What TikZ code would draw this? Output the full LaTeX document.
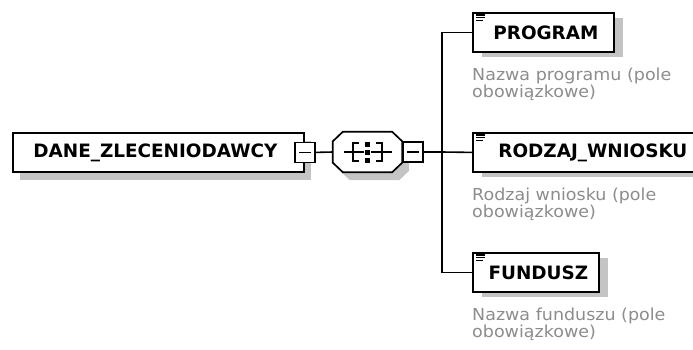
\documentclass[tikz,border=0pt]{standalone}
\usepackage{fontspec}
\setmainfont{DejaVu Sans}
\newfontfamily\descfont[FakeStretch=1.06]{DejaVu Sans}
\usetikzlibrary{shadows,calc}
\definecolor{shadowgray}{RGB}{196,196,196}
\definecolor{descgray}{RGB}{140,140,140}
\tikzset{
  elem/.style={draw=black, line width=1.8pt, fill=white, minimum height=39pt,
    inner sep=0pt, anchor=north west, font=\bfseries\fontsize{18.4}{22}\selectfont},
  mainshadow/.style={drop shadow={shadow xshift=7pt, shadow yshift=-8pt, opacity=1, fill=shadowgray, draw=none}},
  childshadow/.style={drop shadow={shadow xshift=9pt, shadow yshift=-5pt, opacity=1, fill=shadowgray, draw=none}},
  conn/.style={line width=1.6pt, draw=black},
  desc/.style={font=\descfont\fontsize{16.5}{17.3}\selectfont, text=descgray,
    anchor=base west, inner sep=0pt},
  minusbox/.style={draw=black, fill=white, line width=1.7pt, minimum size=20pt, inner sep=0pt,
    path picture={\draw[line width=1.5pt] ([xshift=-6pt]path picture bounding box.center) -- ([xshift=6pt]path picture bounding box.center);}},
  iconline/.style={line width=1.2pt},
}
\begin{document}
\begin{tikzpicture}[x=1pt,y=-1pt]
\useasboundingbox (0,0) rectangle (693,349);

% root element
\node[elem, mainshadow, minimum width=291pt] (dane) at (12,132) {\hspace*{-6pt}DANE\_ZLECENIODAWCY};
\node[minusbox] (dm) at (dane.east) {};

% sequence compositor
\node[inner sep=0pt, minimum width=69pt, minimum height=40pt] (seq) at (367.5,152) {};
\fill[shadowgray] ($(seq.north west)+(17,8)$) -- ($(seq.north east)+(-3,8)$) -- ($(seq.north east)+(7,17.5)$)
  -- ($(seq.south east)+(7,-1.5)$) -- ($(seq.south east)+(-3,8)$) -- ($(seq.south west)+(17,8)$)
  -- ($(seq.south west)+(7,-1.5)$) -- ($(seq.north west)+(7,17.5)$) -- cycle;
\draw[line width=1.7pt, fill=white] ($(seq.north west)+(10,0)$) -- ($(seq.north east)+(-10,0)$) -- ($(seq.north east)+(0,9.5)$)
  -- ($(seq.south east)+(0,-9.5)$) -- ($(seq.south east)+(-10,0)$) -- ($(seq.south west)+(10,0)$)
  -- ($(seq.south west)+(0,-9.5)$) -- ($(seq.north west)+(0,9.5)$) -- cycle;
\begin{scope}[shift={(seq.center)}]
  \draw[line width=1.5pt] (-23.5,0) -- (24.5,0);
  \draw[line width=1.5pt] (-8.5,-9) -- (-14.5,-9) -- (-14.5,9) -- (-8.5,9);
  \draw[line width=1.5pt] (8.5,-9) -- (14.5,-9) -- (14.5,9) -- (8.5,9);
  \fill[white] (-3.5,-11) rectangle (3.5,11);
  \fill[black] (-2.5,-10.5) rectangle (2.5,-5.5);
  \fill[black] (-2.5,-2.5) rectangle (2.5,2.5);
  \fill[black] (-2.5,5.5) rectangle (2.5,10.5);
\end{scope}
\node[minusbox, anchor=west] (sm) at (seq.east) {};

% children
\node[elem, childshadow, minimum width=141pt] (prog) at (472,12) {\hspace*{5pt}PROGRAM};
\node[elem, childshadow, minimum width=240pt] (rodz) at (472,132) {RODZAJ\_WNIOSKU};
\node[elem, childshadow, minimum width=126pt] (fund) at (472,252) {\hspace*{5pt}FUNDUSZ};

\foreach \n in {prog,rodz,fund}{
  \begin{scope}[shift={(\n.north west)}]
    \draw[iconline] (4,3) -- (12.5,3);
    \draw[iconline] (4,5.7) -- (12.5,5.7);
    \draw[iconline] (4,8.5) -- (11,8.5);
  \end{scope}
}

% connectors
\coordinate (trunk) at (442,152);
\draw[conn] (dm.east) -- (seq.west);
\draw[conn] (sm.east) -- (trunk);
\draw[conn] (trunk) |- (prog.west);
\draw[conn] (trunk) -- (rodz.west);
\draw[conn] (trunk) |- (fund.west);

% descriptions
\node[desc] (dprogA) at (472,80) {Nazwa programu (pole};
\node[desc] (dprogB) at (472,97.3) {obowiązkowe)};
\node[desc] (drodzA) at (472,200) {Rodzaj wniosku (pole};
\node[desc] (drodzB) at (472,217.3) {obowiązkowe)};
\node[desc] (dfundA) at (472,320) {Nazwa funduszu (pole};
\node[desc] (dfundB) at (472,337.3) {obowiązkowe)};
\end{tikzpicture}
\end{document}
